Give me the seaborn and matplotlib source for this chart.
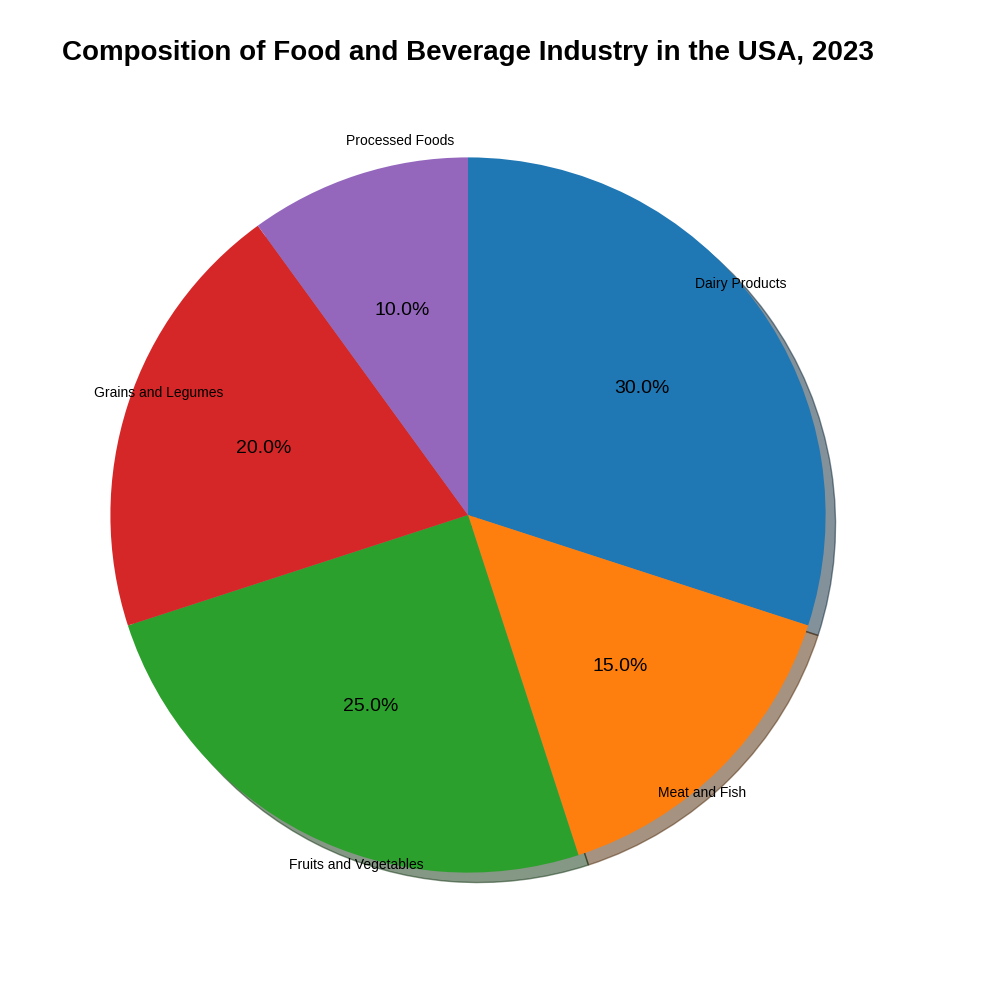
import matplotlib
matplotlib.use("Agg")
import matplotlib.pyplot as plt
import seaborn as sns

categories = ["Dairy Products", "Meat and Fish", "Fruits and Vegetables",
              "Grains and Legumes", "Processed Foods"]
shares = [30, 15, 25, 20, 10]
title = "Composition of Food and Beverage Industry in the USA, 2023"

sns.set_theme(style="white")
plt.rcParams["font.family"] = ["Liberation Sans", "DejaVu Sans"]
plt.rcParams["text.color"] = "black"
# plain matplotlib wedges: no white outline
plt.rcParams["patch.force_edgecolor"] = False
plt.rcParams["patch.linewidth"] = 1.0

colors = sns.color_palette("tab10", len(categories))

fig = plt.figure(figsize=(10, 10), dpi=100)
ax = fig.add_axes([0.021, 0.038, 0.894, 0.894])
wedges, texts, autotexts = ax.pie(
    shares,
    labels=categories,
    colors=colors,
    autopct="%1.1f%%",
    startangle=90,
    shadow=True,
    textprops={"fontsize": 10, "color": "black"},
)
for t in autotexts:
    t.set_fontsize(14)
ax.invert_xaxis()
ax.set_aspect("equal")
ax.set_title(title, fontsize=20, fontweight="bold", color="black", pad=6)

fig.savefig("out.png", dpi=100)
